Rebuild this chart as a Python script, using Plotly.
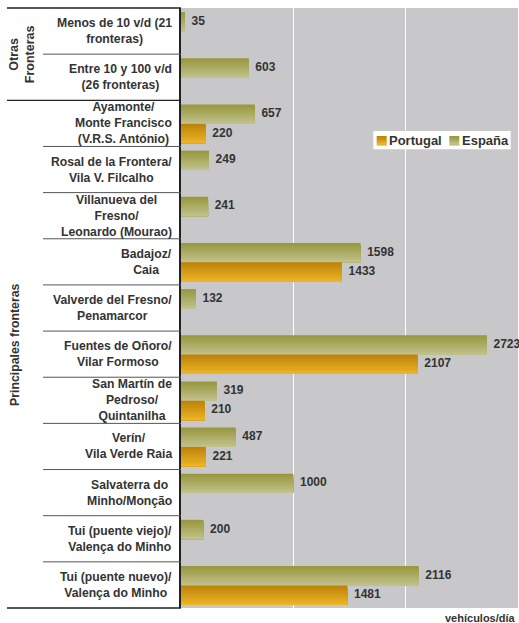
import plotly.graph_objects as go

# ---------------- data ----------------
categories = [
    "Menos de 10 v/d (21<br>fronteras)",
    "Entre 10 y 100 v/d<br>(26 fronteras)",
    "Ayamonte/<br>Monte Francisco<br>(V.R.S. António)",
    "Rosal de la Frontera/<br>Vila V. Filcalho",
    "Villanueva del<br>Fresno/<br>Leonardo (Mourao)",
    "Badajoz/<br>Caia",
    "Valverde del Fresno/<br>Penamarcor",
    "Fuentes de Oñoro/<br>Vilar Formoso",
    "San Martín de<br>Pedroso/<br>Quintanilha",
    "Verín/<br>Vila Verde Raia",
    "Salvaterra do<br>Minho/Monção",
    "Tui (puente viejo)/<br>Valença do Minho",
    "Tui (puente nuevo)/<br>Valença do Minho",
]
espana = [35, 603, 657, 249, 241, 1598, 132, 2723, 319, 487, 1000, 200, 2116]
portugal = [None, None, 220, None, None, 1433, None, 2107, 210, 221, None, None, 1481]
groups = [("Otras<br>Fronteras", 0, 1), ("Principales fronteras", 2, 12)]
series_names = ["Portugal", "España"]
unit_label = "vehículos/día"

# ---------------- layout constants ----------------
W, H = 519, 623
ML, MR, MT, MB = 181, 1, 8, 15
PW, PH = W - ML - MR, H - MT - MB
N = len(categories)
FONT = "Liberation Sans, Arial, sans-serif"
TXT = "#333333"
LABEL_SIZE = 12.2

ESP_TOP, ESP_BOT = (150, 150, 60), (194, 194, 142)
POR_TOP, POR_BOT = (188, 130, 10), (237, 181, 38)


def px_x(X):
    return (X - ML) / PW


def px_y(Y):
    return (H - MB - Y) / PH


def lerp(c1, c2, t):
    return "rgb(%d,%d,%d)" % tuple(round(a + (b - a) * t) for a, b in zip(c1, c2))


fig = go.Figure()
rows = list(range(N))

NS = 14


def gradient_bars(values, start, end, ctop, cbot):
    total = end - start
    w = total / NS
    for k in range(NS):
        fig.add_trace(go.Bar(
            x=values, y=rows, orientation="h",
            offset=start + k * w, width=total - k * w,
            marker=dict(color=lerp(ctop, cbot, (k + 0.5) / NS), line=dict(width=0)),
            showlegend=False, hoverinfo="skip",
        ))


ESP_SPAN = (-0.41, 0.01)
POR_SPAN = (0.01, 0.43)
gradient_bars(espana, ESP_SPAN[0], ESP_SPAN[1], ESP_TOP, ESP_BOT)
gradient_bars(portugal, POR_SPAN[0], POR_SPAN[1], POR_TOP, POR_BOT)

# value labels
for vals, span in ((espana, ESP_SPAN), (portugal, POR_SPAN)):
    xs, ys, ts = [], [], []
    for i, v in enumerate(vals):
        if v is None:
            continue
        xs.append(v)
        ys.append(i + (span[0] + span[1]) / 2)
        ts.append(str(v))
    fig.add_trace(go.Scatter(
        x=xs, y=ys, mode="markers+text", text=ts, textposition="middle right",
        marker=dict(size=9, opacity=0),
        textfont=dict(family=FONT, size=12, color=TXT, weight="bold"),
        showlegend=False, hoverinfo="skip", cliponaxis=False,
    ))

shapes = []
annotations = []

# category labels (block right-aligned at x=173px, lines centred within the block)
for i, c in enumerate(categories):
    annotations.append(dict(
        x=px_x(173), xref="paper", y=i, yref="y", text="<b>%s</b>" % c,
        xanchor="right", yanchor="middle", align="center", showarrow=False,
        borderpad=0,
        font=dict(family=FONT, size=LABEL_SIZE, color=TXT),
    ))

# group labels
annotations.append(dict(
    x=px_x(22), xref="paper", y=0.5, yref="y", text="<b>%s</b>" % groups[0][0],
    textangle=-90, xanchor="center", yanchor="middle", align="center", showarrow=False,
    font=dict(family=FONT, size=12.5, color=TXT),
))
annotations.append(dict(
    x=px_x(15), xref="paper", y=6.8, yref="y", text="<b>%s</b>" % groups[1][0],
    textangle=-90, xanchor="center", yanchor="middle", align="center", showarrow=False,
    font=dict(family=FONT, size=12.3, color=TXT),
))

# separator lines in the label panel
shapes.append(dict(type="line", xref="paper", yref="paper", x0=px_x(7), x1=0, y0=1, y1=1,
                   line=dict(color="#222", width=1.3)))
shapes.append(dict(type="line", xref="paper", yref="paper", x0=px_x(7), x1=0, y0=0, y1=0,
                   line=dict(color="#222", width=1.3)))
for b in range(1, N):
    full = (b == groups[1][1])
    shapes.append(dict(type="line", xref="paper", yref="y",
                       x0=px_x(7 if full else 43), x1=0, y0=b - 0.5, y1=b - 0.5,
                       line=dict(color="#222" if full else "#555", width=1.3 if full else 1)))

# custom legend
shapes.append(dict(type="rect", xref="paper", yref="paper",
                   x0=px_x(373.3), x1=px_x(510.7), y0=px_y(149.3), y1=px_y(131),
                   fillcolor="white", line=dict(width=0), layer="above"))
for (sx, tx, name, ct, cb) in ((376.7, 389.0, series_names[0], POR_TOP, POR_BOT),
                               (449.3, 461.5, series_names[1], ESP_TOP, ESP_BOT)):
    ns = 5
    for k in range(ns):
        y0 = 136 + (145.3 - 136) * k / ns
        y1 = 136 + (145.3 - 136) * (k + 1) / ns + 0.3
        shapes.append(dict(type="rect", xref="paper", yref="paper",
                           x0=px_x(sx), x1=px_x(sx + 10), y0=px_y(y1), y1=px_y(y0),
                           fillcolor=lerp(ct, cb, (k + 0.5) / ns), line=dict(width=0), layer="above"))
    annotations.append(dict(
        x=px_x(tx), xref="paper", y=px_y(140.7), yref="paper", text="<b>%s</b>" % name,
        xanchor="left", yanchor="middle", showarrow=False, xshift=-2,
        font=dict(family=FONT, size=13, color=TXT),
    ))

annotations.append(dict(
    x=1, xref="paper", y=px_y(618), yref="paper", text="<b>%s</b>" % unit_label,
    xanchor="right", yanchor="middle", showarrow=False,
    font=dict(family=FONT, size=11, color=TXT),
))

fig.update_layout(
    width=W, height=H, margin=dict(l=ML, r=MR, t=MT, b=MB, pad=0),
    paper_bgcolor="white", plot_bgcolor="#c8c8ca",
    barmode="overlay", showlegend=False,
    xaxis=dict(range=[0, 3000], dtick=1000, tick0=0, showticklabels=False, ticks="",
               showgrid=True, gridcolor="white", gridwidth=1, zeroline=False, showline=False,
               fixedrange=True),
    yaxis=dict(range=[N - 0.5, -0.5], showticklabels=False, ticks="", showgrid=False,
               zeroline=False, showline=True, linecolor="#222", linewidth=1.5, fixedrange=True),
    shapes=shapes, annotations=annotations,
)

fig.write_html(
    "out.html",
    config={"displayModeBar": False},
    post_script="document.body.style.margin='0';document.body.style.overflow='hidden';",
)
